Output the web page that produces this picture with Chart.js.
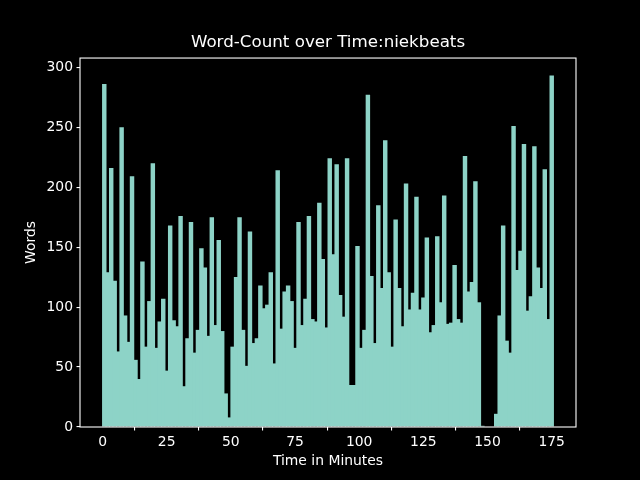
<!DOCTYPE html>
<html>
<head>
<meta charset="utf-8">
<script src="https://cdn.jsdelivr.net/npm/chart.js@4.4.1/dist/chart.umd.min.js"></script>
<style>
  html, body { margin: 0; padding: 0; background: #000; }
  #chart { display: block; }
</style>
</head>
<body>
<canvas id="chart" width="640" height="480"></canvas>
<script>
  // words per time bin (130 bins over ~176 minutes)
  var wordCounts = [
    286, 129, 216, 122, 63, 250, 93, 71, 209, 56, 40, 138,
    67, 105, 220, 66, 88, 107, 47, 168, 89, 84, 176, 34, 74, 171,
    62, 81, 149, 133, 76, 175, 85, 156, 80, 28, 8, 67, 125,
    175, 81, 51, 163, 70, 74, 118, 99, 102, 129, 53, 214, 82,
    113, 118, 105, 66, 171, 85, 107, 176, 90, 88, 187, 140, 83,
    224, 144, 219, 110, 92, 224, 35, 35, 151, 66, 81, 277, 126, 70,
    185, 116, 239, 129, 67, 173, 116, 84, 203, 98, 112, 192, 98,
    108, 158, 79, 85, 159, 104, 193, 86, 87, 135, 90, 87, 226,
    113, 121, 205, 104, 1, 0, 0, 0, 11, 93, 168, 72, 62,
    251, 131, 147, 236, 97, 109, 234, 133, 116, 215, 90, 293
  ];
  var timeMax = 175.7;
  var xTickValues = [0, 25, 50, 75, 100, 125, 150, 175];
  var yTickValues = [0, 50, 100, 150, 200, 250, 300];

  var binWidth = timeMax / wordCounts.length;
  var points = wordCounts.map(function (w, i) {
    return { x: (i + 0.5) * binWidth, y: w };
  });

  var maxWords = Math.max.apply(null, wordCounts);
  var font = { family: 'DejaVu Sans', size: 13.9 };

  // matplotlib style box around the axes
  var framePlugin = {
    id: 'frame',
    afterDatasetsDraw: function (chart) {
      var a = chart.chartArea, ctx = chart.ctx;
      ctx.save();
      ctx.strokeStyle = '#ffffff';
      ctx.lineWidth = 1.1;
      ctx.strokeRect(a.left, a.top, a.right - a.left, a.bottom - a.top);
      ctx.restore();
    }
  };

  new Chart(document.getElementById('chart').getContext('2d'), {
    type: 'bar',
    data: {
      datasets: [{
        data: points,
        backgroundColor: '#8dd3c7',
        borderWidth: 0,
        // slight overlap so no dark seams show between neighbouring bins
        barPercentage: 1.28,
        categoryPercentage: 1
      }]
    },
    options: {
      responsive: false,
      animation: false,
      layout: { padding: { left: 0, right: 64, top: 0, bottom: 0 } },
      plugins: {
        legend: { display: false },
        tooltip: { enabled: false },
        title: {
          display: true,
          text: 'Word-Count over Time:niekbeats',
          color: '#ffffff',
          fullSize: false,
          font: { family: 'DejaVu Sans', size: 16.7, weight: 'normal' },
          padding: { top: 33, bottom: 5 }
        }
      },
      scales: {
        x: {
          type: 'linear',
          offset: false,
          min: -0.05 * timeMax,
          max: timeMax * 1.05,
          afterBuildTicks: function (scale) {
            scale.ticks = xTickValues.map(function (v) { return { value: v }; });
          },
          afterFit: function (scale) { scale.height = 53; },
          grid: { drawOnChartArea: false, drawTicks: true, tickLength: 3.5, color: '#ffffff', lineWidth: 1.1 },
          border: { display: false },
          ticks: { color: '#ffffff', font: font, padding: 3.5, maxRotation: 0 },
          title: {
            display: true, text: 'Time in Minutes', color: '#ffffff', font: font,
            padding: { top: 0, bottom: 10 }
          }
        },
        y: {
          min: 0,
          max: maxWords * 1.05,
          afterBuildTicks: function (scale) {
            scale.ticks = yTickValues.map(function (v) { return { value: v }; });
          },
          afterFit: function (scale) { scale.width = 80; },
          grid: { drawOnChartArea: false, drawTicks: true, tickLength: 3.5, color: '#ffffff', lineWidth: 1.1 },
          border: { display: false },
          ticks: { color: '#ffffff', font: font, padding: 3.5 },
          title: {
            display: true, text: 'Words', color: '#ffffff', font: font,
            padding: { top: 23, bottom: 0 }
          }
        }
      }
    },
    plugins: [framePlugin]
  });
</script>
</body>
</html>
